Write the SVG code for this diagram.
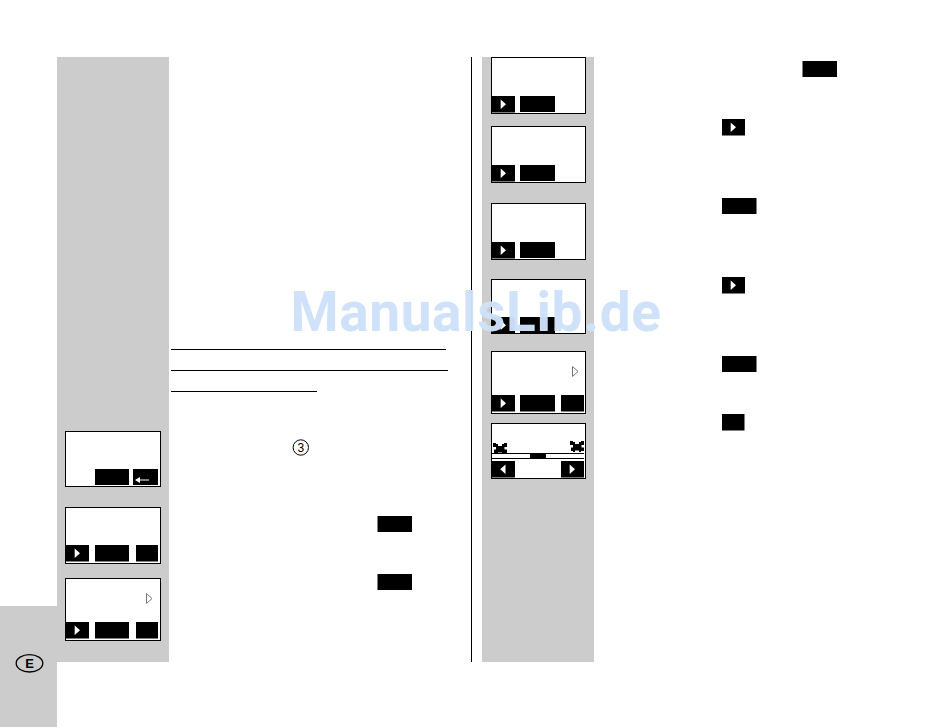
<svg xmlns="http://www.w3.org/2000/svg" width="950" height="728" viewBox="0 0 950 728">
<style>
.g{fill:#cccccc}
.s{fill:#fff;stroke:#000;stroke-width:1}
.k{fill:#000}
.w{fill:#fff}
.l{stroke:#000;stroke-width:1;fill:none}
.wm{font-family:Roboto,"Liberation Sans",sans-serif;font-size:55px;font-weight:700;letter-spacing:0.6px;fill:#cfe2f9}
</style>
<defs>
<g id="pl"><rect class="k" width="23" height="16.500"/><path class="w" d="M8.700 3.500L14 8.200L8.700 13Z"/></g>
<g id="pr"><rect class="k" width="23" height="16.500"/><path class="w" d="M13.500 3.500L8.200 8.200L13.500 13Z"/></g>
<path id="tri" d="M0.500 0.500L6 5.500L0.500 10.500Z" fill="#fff" stroke="#777"/>
<path id="fan" class="k" d="M0 0H3V1H5V3H9V1H11V0H14V4H11.500V6.500H14V10H11V11H9V9.500H5V11H3V10H1V6.500H3V4H0Z"/>
</defs>
<rect class="w" width="950" height="728"/>
<g id="panels">
<rect class="g" x="57" y="57" width="112" height="605"/>
<rect class="g" x="0" y="606" width="57" height="121"/>
<rect class="g" x="482" y="57" width="112" height="605"/>
</g>
<g id="rules">
<path class="l" d="M471.500 57V662M171 349.500H446M171 370.500H448M171 391.500H317"/>
</g>
<g id="badge-e">
<ellipse cx="29.500" cy="663.300" rx="13.300" ry="8.700" fill="none" stroke="#000" stroke-width="1.300"/>
<text x="29.700" y="668" text-anchor="middle" font-family="'Liberation Sans',sans-serif" font-size="13" font-weight="700">E</text>
</g>
<g id="circled-3">
<circle cx="300.800" cy="447.500" r="7.700" fill="none" stroke="#000" stroke-width="1"/>
<text x="300.800" y="452" text-anchor="middle" font-family="'Liberation Sans',sans-serif" font-size="12">3</text>
</g>
<g id="screen-l1"><rect class="s" x="65.500" y="431.500" width="95" height="55"/><rect class="k" x="95" y="469" width="34" height="16"/><rect class="k" x="133" y="469" width="25" height="16"/><path class="w" d="M135 480L140 477V479.500H149V480.500H140V483Z"/></g>
<g id="screen-l2"><rect class="s" x="65.500" y="507.500" width="95" height="56"/><use href="#pl" x="66" y="545"/><rect class="k" x="95" y="545" width="34" height="16.500"/><rect class="k" x="136" y="545" width="22" height="16.500"/></g>
<g id="screen-l3"><rect class="s" x="65.500" y="578.500" width="95" height="62"/><use href="#tri" x="146" y="593"/><use href="#pl" x="66" y="622"/><rect class="k" x="95" y="622" width="34" height="16.500"/><rect class="k" x="136" y="622" width="22" height="16.500"/></g>
<g id="screen-r1"><rect class="s" x="491.500" y="57.500" width="94" height="56"/><use href="#pl" x="492" y="96"/><rect class="k" x="520" y="96" width="35" height="16"/></g>
<g id="screen-r2"><rect class="s" x="491.500" y="126.500" width="94" height="56"/><use href="#pl" x="492" y="165"/><rect class="k" x="520" y="165" width="35" height="16"/></g>
<g id="screen-r3"><rect class="s" x="491.500" y="203.500" width="94" height="56"/><use href="#pl" x="492" y="242"/><rect class="k" x="520" y="242" width="35" height="16"/></g>
<g id="screen-r4"><rect class="s" x="491.500" y="279.500" width="94" height="54"/><use href="#pl" x="492" y="317"/><rect class="k" x="520" y="317" width="35" height="16"/></g>
<g id="screen-r5"><rect class="s" x="491.500" y="351.500" width="94" height="62"/><use href="#tri" x="572" y="366"/><use href="#pl" x="492" y="395"/><rect class="k" x="520" y="395" width="35" height="16.500"/><rect class="k" x="561" y="395" width="23" height="16.500"/></g>
<g id="screen-r6"><rect class="s" x="491.500" y="423.500" width="94" height="55"/><use href="#fan" x="493" y="443"/><use href="#fan" x="570" y="441"/><path class="l" d="M492 453.500H584M492 458.500H584"/><rect class="k" x="530" y="453" width="16" height="6"/><use href="#pr" x="492" y="461"/><use href="#pl" x="561" y="461"/></g>
<g id="key-1"><rect class="k" x="802.500" y="61" width="34.500" height="16"/></g>
<g id="key-2"><use href="#pl" x="722" y="119"/></g>
<g id="key-3"><rect class="k" x="722" y="198" width="34.500" height="16"/></g>
<g id="key-4"><use href="#pl" x="722" y="277"/></g>
<g id="key-5"><rect class="k" x="722" y="356" width="34.500" height="16"/></g>
<g id="key-6"><rect class="k" x="722" y="414" width="22.500" height="16.500"/></g>
<g id="key-7"><rect class="k" x="377.500" y="516" width="34.500" height="16"/></g>
<g id="key-8"><rect class="k" x="377.500" y="574" width="34.500" height="16"/></g>
<text class="wm" x="476" y="330.500" text-anchor="middle" opacity="0.97">ManualsLib.de</text>
</svg>
